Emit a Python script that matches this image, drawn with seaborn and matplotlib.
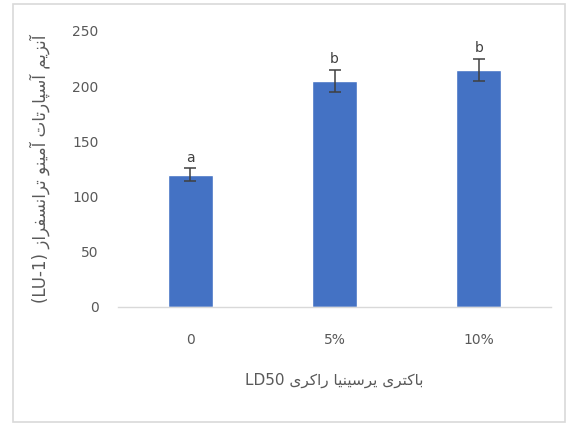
import matplotlib
matplotlib.use("Agg")
import matplotlib.pyplot as plt
import seaborn as sns
import pandas as pd
from matplotlib.patches import Rectangle

# ---- data ----
categories = ["0", "5%", "10%"]
values = [120, 205, 215]
errors = [6, 10, 10]
letters = ["a", "b", "b"]
y_ticks = [0, 50, 100, 150, 200, 250]
x_label = "باکتری یرسینیا راکری LD50"
y_label = "آنزیم آسپارتات آمینو ترانسفراز (LU-1)"

# ---- minimal Persian shaping (presentation forms) + RTL visual order ----
FORMS = {  # iso, fin, init, med  (None => right-joining only)
    "\u0627": ("\uFE8D", "\uFE8E", None, None),
    "\u0622": ("\uFE81", "\uFE82", None, None),
    "\u0628": ("\uFE8F", "\uFE90", "\uFE91", "\uFE92"),
    "\u067E": ("\uFB56", "\uFB57", "\uFB58", "\uFB59"),
    "\u062A": ("\uFE95", "\uFE96", "\uFE97", "\uFE98"),
    "\u0631": ("\uFEAD", "\uFEAE", None, None),
    "\u0632": ("\uFEAF", "\uFEB0", None, None),
    "\u0633": ("\uFEB1", "\uFEB2", "\uFEB3", "\uFEB4"),
    "\u0641": ("\uFED1", "\uFED2", "\uFED3", "\uFED4"),
    "\u06A9": ("\uFB8E", "\uFB8F", "\uFB90", "\uFB91"),
    "\u0645": ("\uFEE1", "\uFEE2", "\uFEE3", "\uFEE4"),
    "\u0646": ("\uFEE5", "\uFEE6", "\uFEE7", "\uFEE8"),
    "\u0648": ("\uFEED", "\uFEEE", None, None),
    "\u06CC": ("\uFBFC", "\uFBFD", "\uFBFE", "\uFBFF"),
}


def shape_word(w):
    out = []
    for i, c in enumerate(w):
        if c not in FORMS:
            out.append(c)
            continue
        prev = w[i - 1] if i > 0 else None
        nxt = w[i + 1] if i + 1 < len(w) else None
        join_prev = prev in FORMS and FORMS[prev][2] is not None
        join_next = nxt in FORMS and FORMS[c][2] is not None
        f = FORMS[c]
        if join_prev and join_next:
            out.append(f[3])
        elif join_prev:
            out.append(f[1])
        elif join_next:
            out.append(f[2])
        else:
            out.append(f[0])
    return "".join(out)


def is_ar(tok):
    return any(ch in FORMS for ch in tok)


def rtl(text):
    toks = text.split(" ")
    vis = []
    for t in toks:
        vis.append(shape_word(t)[::-1] if is_ar(t) else t)
    return " ".join(vis[::-1])


# ---- figure ----
sns.set_theme(style="white")
plt.rcParams["font.family"] = ["DejaVu Sans"]

W, H = 569, 425
fig = plt.figure(figsize=(W / 100, H / 100), dpi=100)
fig.patch.set_facecolor("white")
fig.patches.append(Rectangle((13 / W, 1 - 422 / H), 552 / W, 418 / H,
                             transform=fig.transFigure, fill=False,
                             edgecolor="#d9d9d9", lw=1.2))

ax = fig.add_axes([118 / W, 1 - 307 / H, (551 - 118) / W, (307 - 31) / H])
df = pd.DataFrame({"cat": categories, "val": values})
sns.barplot(data=df, x="cat", y="val", color="#4472C4", saturation=1,
            width=0.31, errorbar=None, ax=ax, order=categories)
ax.errorbar(range(len(categories)), values, yerr=errors, fmt="none",
            ecolor="#404040", elinewidth=1.1, capsize=4, capthick=1.1)
for i, (v, e, l) in enumerate(zip(values, errors, letters)):
    ax.text(i, v + e + 3, l, ha="center", va="bottom", fontsize=10,
            color="#404040")

ax.set_ylim(0, 250)
ax.set_xlim(-0.5, 2.5)
ax.set_yticks(y_ticks)
ax.set_yticklabels([str(t) for t in y_ticks])
for s in ["top", "right", "left"]:
    ax.spines[s].set_visible(False)
ax.spines["bottom"].set_color("#d9d9d9")
ax.spines["bottom"].set_linewidth(1)
ax.tick_params(axis="both", length=0, labelsize=10, labelcolor="#595959")
ax.tick_params(axis="y", pad=14)
ax.tick_params(axis="x", pad=19)

ax.set_xlabel(rtl(x_label), fontsize=11, color="#595959", labelpad=18)
ax.set_ylabel(rtl(y_label), fontsize=12, color="#595959", labelpad=16)

fig.savefig("out.png", dpi=100, facecolor="white")
